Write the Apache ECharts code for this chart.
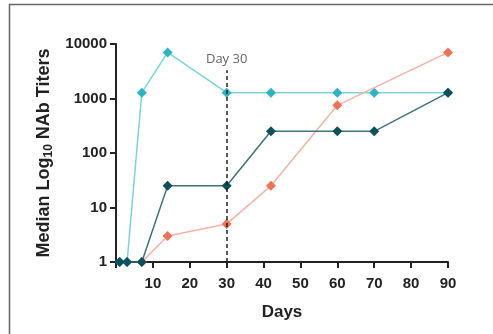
<!DOCTYPE html>
<html><head><meta charset="utf-8">
<script src="https://cdn.jsdelivr.net/npm/echarts@6/dist/echarts.min.js"></script>
<style>html,body{margin:0;padding:0;background:#fff}#c{width:493px;height:334px}</style>
</head><body><div id="c"></div>
<script>
const days = [1, 3, 7, 14, 30, 42, 60, 70, 90];
const tealValues = [1, 1, 1280, 7000, 1280, 1280, 1280, 1280, 1280];
const darkDays = [1, 3, 7, 14, 30, 42, 60, 70, 90];
const darkValues = [1, 1, 1, 25, 25, 250, 250, 250, 1280];
const orangeDays = [7, 14, 30, 42, 60, 90];
const orangeValues = [1, 3, 5, 25, 750, 7000];
const xTicks = [10, 20, 30, 40, 50, 60, 70, 80, 90];
const yTicks = [1, 10, 100, 1000, 10000];
const markerDay = 30;
const markerTop = 3300;

const FF = 'Liberation Sans';
const pair = (xs, ys) => xs.map((x, i) => [x, ys[i]]);
const chart = echarts.init(document.getElementById('c'));
const tickFont = {fontFamily: FF, fontWeight: 'bold', fontSize: 15, color: '#222'};
chart.setOption({
  animation: false,
  grid: {left: 116, right: 45, top: 44, bottom: 72},
  graphic: [{type: 'rect', shape: {x: 9.5, y: 4.5, width: 700, height: 500}, style: {fill: 'none', stroke: '#666', lineWidth: 1.5}, silent: true}],
  xAxis: {
    type: 'value', min: 0, max: 90, interval: 10,
    name: 'Days', nameLocation: 'middle', nameGap: 42,
    nameTextStyle: {fontFamily: FF, fontWeight: 'bold', fontSize: 17, color: '#222'},
    axisLine: {lineStyle: {color: '#222', width: 2}},
    axisTick: {length: 6, lineStyle: {color: '#222', width: 2}},
    axisLabel: Object.assign({margin: 14, formatter: v => xTicks.includes(v) ? String(v) : ''}, tickFont),
    splitLine: {show: false}
  },
  yAxis: {
    type: 'log', logBase: 10, min: yTicks[0], max: yTicks[yTicks.length - 1],
    name: '{a|Median Log}{s|10}{a| NAb Titers}', nameLocation: 'middle', nameGap: 60, nameRotate: 90,
    nameTextStyle: {rich: {
      a: {fontFamily: FF, fontWeight: 'bold', fontSize: 18, color: '#222'},
      s: {fontFamily: FF, fontWeight: 'bold', fontSize: 12, color: '#222', padding: [8, 0, 0, 0]}
    }},
    axisLine: {show: true, lineStyle: {color: '#222', width: 2}},
    axisTick: {show: true, length: 6, lineStyle: {color: '#222', width: 2}},
    axisLabel: Object.assign({margin: 9, formatter: v => String(Math.round(v))}, tickFont),
    splitLine: {show: false}
  },
  series: [
    {type: 'line', data: pair(days, tealValues), symbol: 'diamond', symbolSize: 10,
     lineStyle: {color: '#7dd2da', width: 1.5}, itemStyle: {color: '#2fb3c3'}, z: 2},
    {type: 'line', data: pair(orangeDays, orangeValues), symbol: 'diamond', symbolSize: 10,
     lineStyle: {color: '#f3b3a5', width: 1.5}, itemStyle: {color: '#eb7359'}, z: 3,
     markLine: {silent: true, symbol: 'none',
       lineStyle: {color: '#222', type: [4, 3], width: 1.5},
       label: {show: true, position: 'end', formatter: 'Day 30', fontFamily: 'Open Sans', fontSize: 13, color: '#666', distance: 4},
       data: [[{coord: [markerDay, 1]}, {coord: [markerDay, markerTop]}]]}},
    {type: 'line', data: pair(darkDays, darkValues), symbol: 'diamond', symbolSize: 10,
     lineStyle: {color: '#3e7479', width: 1.5}, itemStyle: {color: '#0d5059'}, z: 4}
  ]
});
</script></body></html>
